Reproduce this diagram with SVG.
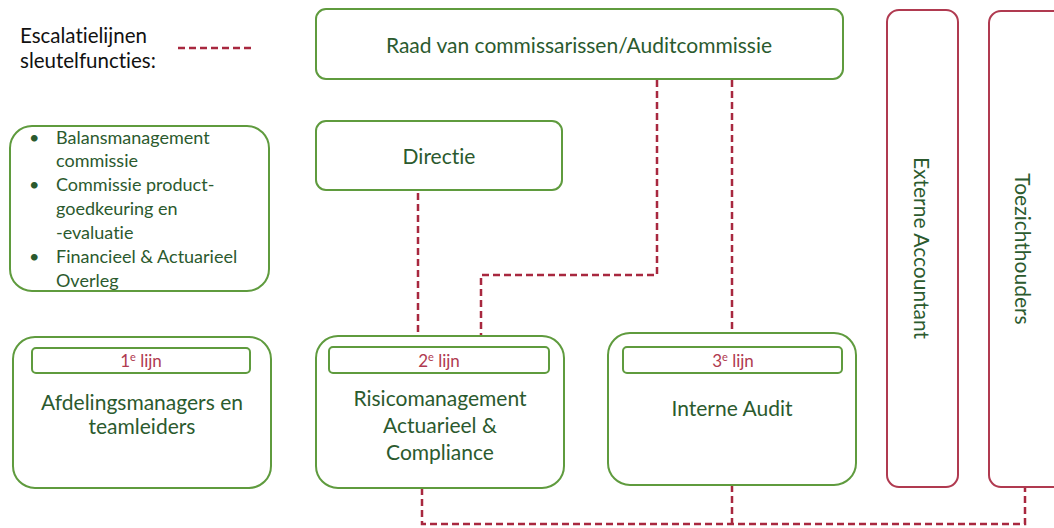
<svg xmlns="http://www.w3.org/2000/svg" width="1054" height="528" viewBox="0 0 1054 528">
<style>
text{font-variant-ligatures:none}
.g{fill:#fff;stroke:#5f9b3e;stroke-width:2}
.r{fill:#fff;stroke:#b03a50;stroke-width:2}
.t{font-family:Lato,"Open Sans",sans-serif;font-size:21px;fill:#2b5a2e;text-anchor:middle}
.l{font-family:Lato,"Open Sans",sans-serif;font-size:18px;fill:#2b5a2e}
.k{font-family:Lato,"Open Sans",sans-serif;font-size:17px;fill:#b03a50;text-anchor:middle}
.lg{font-family:Lato,"Open Sans",sans-serif;font-size:20.5px;fill:#111}
.d{fill:none;stroke:#a8283f;stroke-width:2.5;stroke-dasharray:7 4}
</style>
<g id="legend">
<text class="lg" x="20" y="43">Escalatielijnen</text>
<text class="lg" x="20" y="68">sleutelfuncties:</text>
<line class="d" x1="178" y1="48" x2="251" y2="48"/>
</g>
<g id="connectors">
<path class="d" d="M418 193 V336"/>
<path class="d" d="M657 80 V275 H481 V336"/>
<path class="d" d="M732 80 V333"/>
<path class="d" d="M422 488 V524 H1025 V487"/>
<path class="d" d="M732 485 V524"/>
</g>
<g id="raad">
<rect class="g" x="316" y="9" width="527" height="70" rx="10"/>
<text class="t" x="579" y="53">Raad van commissarissen/Auditcommissie</text>
</g>
<g id="directie">
<rect class="g" x="316" y="121" width="246" height="69" rx="10"/>
<text class="t" x="439" y="164">Directie</text>
</g>
<g id="commissies">
<rect class="g" x="10" y="126" width="259" height="165" rx="22"/>
<text class="l"><tspan x="29" y="144">•</tspan><tspan x="29" y="191">•</tspan><tspan x="29" y="263">•</tspan></text>
<text class="l">
<tspan x="56" y="144">Balansmanagement</tspan>
<tspan x="56" y="167">commissie</tspan>
<tspan x="56" y="191">Commissie product-</tspan>
<tspan x="56" y="215">goedkeuring en</tspan>
<tspan x="56" y="239">-evaluatie</tspan>
<tspan x="56" y="263">Financieel &amp; Actuarieel</tspan>
<tspan x="56" y="287">Overleg</tspan>
</text>
</g>
<g id="lijn1">
<rect class="g" x="13" y="337" width="258" height="151" rx="22"/>
<rect class="g" x="32" y="348" width="218" height="25" rx="4"/>
<text class="k" x="141" y="367">1<tspan font-size="11" dy="-6">e</tspan><tspan dy="6"> lijn</tspan></text>
<text class="t" x="142" y="410">Afdelingsmanagers en</text>
<text class="t" x="142" y="434">teamleiders</text>
</g>
<g id="lijn2">
<rect class="g" x="316" y="336" width="248" height="152" rx="22"/>
<rect class="g" x="329" y="347" width="220" height="26" rx="4"/>
<text class="k" x="439" y="367">2<tspan font-size="11" dy="-6">e</tspan><tspan dy="6"> lijn</tspan></text>
<text class="t" x="440" y="406">Risicomanagement</text>
<text class="t" x="440" y="433">Actuarieel &amp;</text>
<text class="t" x="440" y="460">Compliance</text>
</g>
<g id="lijn3">
<rect class="g" x="608" y="333" width="248" height="152" rx="22"/>
<rect class="g" x="623" y="347" width="219" height="26" rx="4"/>
<text class="k" x="733" y="367">3<tspan font-size="11" dy="-6">e</tspan><tspan dy="6"> lijn</tspan></text>
<text class="t" x="732" y="416">Interne Audit</text>
</g>
<g id="accountant">
<rect class="r" x="887" y="10" width="71" height="477" rx="12"/>
<text class="t" transform="translate(914 248) rotate(90)">Externe Accountant</text>
</g>
<g id="toezicht">
<rect class="r" x="989" y="11" width="80" height="476" rx="12"/>
<text class="t" transform="translate(1015 249) rotate(90)">Toezichthouders</text>
</g>
</svg>
